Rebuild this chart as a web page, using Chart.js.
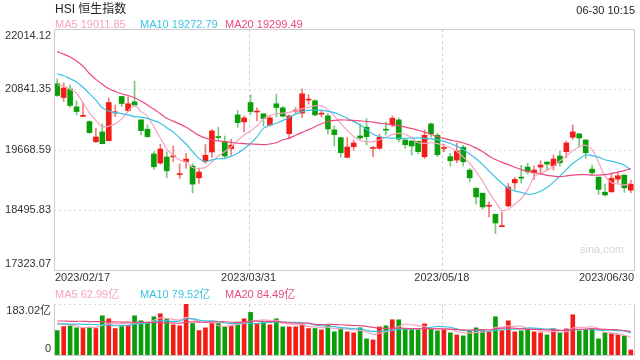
<!DOCTYPE html>
<html>
<head>
<meta charset="utf-8">
<script src="https://cdn.jsdelivr.net/npm/chart.js@4.4.0/dist/chart.umd.min.js"></script>
<style>
  html, body { margin: 0; padding: 0; background: #fff; }
  #wrap { position: relative; width: 640px; height: 360px; overflow: hidden;
          font-family: "Liberation Sans", Arial, "Noto Sans CJK SC", sans-serif; }
  canvas { position: absolute; left: 0; }
  .t { position: absolute; white-space: nowrap; font-size: 11px; line-height: 11px; }
</style>
</head>
<body>
<div id="wrap">
  <canvas id="kline" width="640" height="290" style="top:0"></canvas>
  <canvas id="vol" width="640" height="70" style="top:290px"></canvas>
  <div class="t" style="left:55px;top:3px;font-size:12px;line-height:12px;color:#222">HSI 恒生指数</div>
  <div class="t" style="right:5px;top:5px;color:#222">06-30 10:15</div>
  <div class="t" id="lg5" style="left:55px;top:19px"></div>
  <div class="t" id="lg10" style="left:140px;top:19px"></div>
  <div class="t" id="lg20" style="left:225px;top:19px"></div>
  <div class="t" id="vg5" style="left:55px;top:289px"></div>
  <div class="t" id="vg10" style="left:140px;top:289px"></div>
  <div class="t" id="vg20" style="left:225px;top:289px"></div>
</div>
<script>
(function () {
  'use strict';

  // ---- data ----
  const yTicks = [17323.07, 18495.83, 19668.59, 20841.35, 22014.12];
  const volTicks = [0, 183.02];
  const xTickIndex = [0, 30, 60, 89];
  const xTickLabels = ['2023/02/17', '2023/03/31', '2023/05/18', '2023/06/30'];
  const gridIndex = [30, 60];

  const open = [20949,20681,20845,20499,20314,20212,19821,20011,19841,20382,
    20701,20427,20597,20245,20063,19581,19405,19522,19526,19180,
    19430,19346,19117,19430,19620,19913,19821,19684,20343,20206,
    20583,20398,20363,20142,20558,20480,19977,20415,20376,20630,
    20617,20357,20323,20050,19899,19516,19723,19932,20103,19688,
    19692,20054,20147,20245,19854,19835,19829,19528,20167,19946,
    19688,19528,19463,19712,19268,18916,18818,18564,18408,18167,
    18570,19020,19121,19327,19215,19327,19424,19352,19542,19626,
    19907,19972,19854,19287,19131,18838,18844,19092,19170,18877];
  const high = [21041,20963,20929,20617,20583,20226,20083,20167,20669,20533,
    20706,20701,21002,20250,20147,19626,19770,19626,19737,19385,
    19594,19385,19287,19770,20063,20103,19932,19868,20427,20323,
    20734,20480,20368,20310,20748,20505,20343,20486,20851,20734,
    20636,20440,20363,20128,19905,19899,19854,20167,20271,19737,
    19966,20206,20323,20284,19860,19840,19834,20050,20181,19985,
    19776,19594,19790,19751,19301,18921,18823,18648,18413,18453,
    19008,19125,19360,19399,19346,19450,19430,19561,19633,19835,
    20147,19985,19860,19366,19136,18994,19215,19203,19175,19072];
  const low = [20701,20603,20493,20343,20310,19985,19802,19778,19836,20310,
    20505,20407,20505,19952,19907,19282,19379,19117,19430,19106,
    19301,18824,19008,19399,19516,19854,19516,19555,20103,20011,
    20357,20226,20128,20128,20298,20298,19874,20363,20290,20552,
    20323,20298,19972,19737,19516,19510,19659,19868,19757,19528,
    19672,19952,20114,19821,19692,19561,19581,19489,19907,19528,
    19626,19346,19411,19346,19039,18603,18506,18355,18031,18160,
    18551,18897,19020,19190,19086,19215,19268,19268,19346,19508,
    19868,19723,19497,19157,18793,18760,18838,19020,18832,18824];
  const close = [20720,20865,20525,20407,20323,19997,19913,19782,20583,20392,
    20564,20558,20533,20036,19919,19332,19678,19254,19536,19190,
    19483,18994,19229,19555,20030,19901,19542,19751,20192,20284,
    20407,20407,20271,20284,20486,20318,20323,20425,20753,20640,
    20343,20366,20069,19958,19606,19717,19796,19893,19919,19698,
    19907,20044,20278,19868,19762,19737,19626,19946,19972,19567,
    19698,19450,19639,19430,19117,18746,18551,18574,18238,18179,
    18936,19086,19111,19235,19268,19366,19385,19483,19411,19796,
    20011,19893,19606,19215,18891,18785,19106,19157,18922,18994];

  const ma5 = [20929,20904,20841,20763,20577,20382,20235,20108,20122,20167,
    20265,20411,20529,20411,20313,20108,19893,19678,19561,19463,
    19434,19317,19301,19317,19424,19542,19630,19717,19844,19952,
    20030,20128,20265,20333,20362,20376,20392,20421,20460,20495,
    20519,20519,20441,20323,20177,20040,19922,19844,19821,19821,
    19858,19903,19957,19981,19960,19899,19801,19786,19800,19782,
    19747,19708,19630,19526,19401,19235,19053,18838,18648,18486,
    18505,18603,18710,18887,19137,19200,19262,19342,19444,19542,
    19645,19717,19751,19668,19419,19145,19024,19000,18979,19011.85];
  const ma10 = [21144,21105,21046,20983,20880,20755,20630,20480,20413,20386,
    20368,20341,20308,20300,20274,20231,20180,20094,20010,19893,
    19776,19630,19493,19432,19467,19489,19497,19538,19596,19682,
    19786,19913,20079,20140,20180,20235,20296,20357,20405,20429,
    20439,20431,20411,20386,20335,20278,20216,20143,20063,19966,
    19922,19897,19889,19887,19887,19889,19893,19887,19877,19860,
    19828,19786,19735,19667,19583,19487,19377,19250,19125,19010,
    18916,18863,18834,18798,18808,18857,18930,19033,19151,19278,
    19395,19489,19561,19549,19520,19469,19442,19409,19362,19272.79];
  const ma20 = [21574,21525,21468,21392,21290,21148,21034,20937,20851,20798,
    20753,20720,20677,20614,20534,20450,20366,20278,20220,20165,
    20102,20022,19944,19889,19856,19835,19821,19807,19790,19784,
    19776,19770,19764,19776,19801,19858,19889,19946,20001,20055,
    20112,20171,20214,20237,20245,20241,20235,20225,20214,20200,
    20182,20167,20149,20132,20104,20075,20044,20006,19963,19922,
    19885,19852,19826,19795,19756,19696,19630,19540,19473,19417,
    19375,19323,19278,19243,19221,19194,19166,19151,19139,19155,
    19170,19180,19180,19170,19170,19178,19200,19229,19258,19299.49];

  // volume, 亿
  const vol = [87.7,102,104.7,97.5,98.6,98.6,95,140.8,130,95,
    102,105.8,140.8,122.7,116.7,137.2,148,130,108.3,104.7,
    183.02,113,87.7,97.5,113,113,101,104,118,130,
    152.8,113,116.7,108.3,130,101,101,101,110.7,95,
    95,90.3,108.3,83,97.5,83,79.4,97.5,57.8,54.2,
    101,104.7,126.4,126.4,93.9,90.3,90.3,112,93.9,86.6,
    90.3,79.4,72.2,68.6,86.6,97.5,90.3,83,137.2,87.7,
    122.7,83,86.6,93.9,83,79.4,72.2,93.9,79.4,93.9,
    144.4,86.6,90.3,93.9,57.8,79.4,75.8,72.2,68.6,18];
  const volMa5 = [112,110,108,104,98.1,100.3,98.9,106.1,112.6,111.9,
    112.6,114.7,114.7,113.3,117.6,124.6,133.1,130.9,128,125.6,
    134.8,127.8,119.3,117.2,118.8,104.8,102.4,105.7,109.8,113.2,
    121.2,123.6,126.1,124.2,124.2,113.8,111.4,108.3,108.7,101.7,
    100.5,98.4,99.9,94.3,94.8,92.4,90.2,88.1,83,74.4,
    78,83,88.8,102.5,110.5,108.3,105.5,102.6,96.1,94.6,
    94.6,92.4,84.5,79.4,79.4,80.9,83,85.2,98.9,99.1,
    104.2,102.7,103.4,94.8,93.8,85.2,83,84.5,81.6,83.8,
    96.8,99.6,98.9,101.8,94.6,81.6,79.4,75.8,70.8,62.99];
  const volMa10 = [112,112,111,111,110,110,109,108,107,105,
    106.4,106.8,110.4,112.9,114.7,118.6,123.9,122.8,120.7,121.6,
    129.8,130.5,125.2,122.7,122.2,119.6,114.9,112.3,113.2,115.8,
    113,113,115.9,117,118.7,117.5,117.5,117.2,116.5,113,
    107.2,104.9,104.1,101.5,98.3,96.5,94.3,94,88.7,84.6,
    85.2,86.6,88.5,92.8,92.4,93.2,94.3,95.7,99.3,102.6,
    101.5,99,93.5,87.8,87,87.7,87.7,84.8,89.2,89.3,
    92.5,92.9,94.3,96.9,96.5,94.7,92.9,94,88.2,88.8,
    91,91.3,91.7,91.7,89.2,89.2,89.5,87.4,86.3,79.52];
  const volMa20 = [122,122,121,121,121,120,120,120,119,119,
    118,118,117,117,117,116,116,115,115,114,
    118,118.6,117.7,117.7,118.5,119.1,119.4,117.5,116.9,118.7,
    121.2,121.6,120.4,119.7,120.3,118.5,116.2,114.7,114.8,114.4,
    110.1,109,110,109.3,108.5,107,105.9,105.6,102.6,98.8,
    96.2,95.8,96.3,97.2,95.4,94.8,94.3,94.8,94,93.6,
    93.3,92.8,91,90.3,89.7,90.5,91,90.3,94.2,95.9,
    97,95.9,93.9,92.3,91.8,91.2,90.3,89.4,88.7,89,
    91.7,92.1,93,94.3,92.8,91.9,91.2,90.7,87.2,84.49];

  // ---- styles ----
  const RED = '#f21d16', GREEN = '#0a9e0a';
  const RED_W = 'rgba(242,29,22,0.6)', GREEN_W = 'rgba(10,158,10,0.55)';
  const C5 = '#f7a3c0', C10 = '#3cc3e4', C20 = '#ea4b7d';
  const FONT = '"Liberation Sans", Arial, "Noto Sans CJK SC", sans-serif';

  const idx = close.map((_, i) => i);
  const up = idx.map(i => close[i] >= open[i]);
  const last = (a) => a[a.length - 1];

  // legends
  const setLg = (id, text, color) => {
    const el = document.getElementById(id);
    el.textContent = text;
    el.style.color = color;
  };
  setLg('lg5', 'MA5 ' + last(ma5).toFixed(2), C5);
  setLg('lg10', 'MA10 ' + last(ma10).toFixed(2), C10);
  setLg('lg20', 'MA20 ' + last(ma20).toFixed(2), C20);
  setLg('vg5', 'MA5 ' + last(volMa5).toFixed(2) + '亿', C5);
  setLg('vg10', 'MA10 ' + last(volMa10).toFixed(2) + '亿', C10);
  setLg('vg20', 'MA20 ' + last(volMa20).toFixed(2) + '亿', C20);

  // frame / labels plugin
  function makeFrame(cfg) {
    return {
      id: 'frame',
      beforeDatasetsDraw(chart) {
        const { ctx, chartArea: a, scales: { x, y } } = chart;
        ctx.save();
        ctx.lineWidth = 1;
        ctx.strokeStyle = '#d9d9d9';
        ctx.setLineDash([2, 3]);
        cfg.hLines.forEach(v => {
          const py = Math.round(y.getPixelForValue(v)) + 0.5;
          ctx.beginPath(); ctx.moveTo(a.left, py); ctx.lineTo(a.right, py); ctx.stroke();
        });
        ctx.strokeStyle = '#cfcfcf';
        ctx.setLineDash([3, 3]);
        gridIndex.forEach(i => {
          const px = Math.round(x.getPixelForValue(i) - 2) + 0.5;
          ctx.beginPath(); ctx.moveTo(px, a.top); ctx.lineTo(px, a.bottom); ctx.stroke();
        });
        ctx.restore();
      },
      afterDatasetsDraw(chart) {
        const { ctx, chartArea: a, scales: { x, y } } = chart;
        ctx.save();
        ctx.lineWidth = 1;
        ctx.strokeStyle = '#cccccc';
        ctx.setLineDash([]);
        const L = Math.round(a.left) + 0.5, R = Math.round(a.right) + 0.5;
        const T = Math.round(a.top) + 0.5, B = Math.round(a.bottom) + 0.5;
        ctx.beginPath();
        if (cfg.topBorder) { ctx.moveTo(L, T); ctx.lineTo(R, T); }
        ctx.moveTo(L, T); ctx.lineTo(L, B);
        ctx.moveTo(R, T); ctx.lineTo(R, B);
        ctx.moveTo(L, B); ctx.lineTo(R, B);
        ctx.stroke();

        ctx.font = '11px ' + FONT;
        ctx.fillStyle = '#333';
        ctx.textAlign = 'right';
        ctx.textBaseline = 'middle';
        const n = cfg.ticks.length;
        cfg.ticks.forEach((v, k) => {
          let py = y.getPixelForValue(v);
          if (k === 0) py -= 6.5;
          else if (k === n - 1) py += 6.5;
          ctx.fillText(cfg.fmt(v), a.left - 3, py);
        });

        if (cfg.xLabels) {
          xTickIndex.forEach((i, k) => {
            let px = x.getPixelForValue(i) - 2;
            if (k === 0) { ctx.textAlign = 'left'; px = a.left + 1; }
            else if (k === xTickIndex.length - 1) { ctx.textAlign = 'right'; px = a.right; }
            else ctx.textAlign = 'center';
            ctx.fillText(xTickLabels[k], px, a.bottom + 8);
          });
          ctx.font = '11px ' + FONT;
          ctx.fillStyle = '#d4d4d4';
          ctx.textAlign = 'center';
          ctx.fillText('sina.com', a.right - 32, a.bottom - 20);
        }
        ctx.restore();
      }
    };
  }

  const lineDs = (data, color) => ({
    type: 'line', data, borderColor: color, borderWidth: 1.2,
    pointRadius: 0, tension: 0.35, fill: false, order: 0
  });

  Chart.defaults.font.family = FONT;

  new Chart(document.getElementById('kline'), {
    type: 'bar',
    data: {
      labels: idx,
      datasets: [
        lineDs(ma20, C20),
        lineDs(ma10, C10),
        lineDs(ma5, C5),
        { data: idx.map(i => [open[i], close[i]]), backgroundColor: idx.map(i => up[i] ? RED : GREEN),
          barThickness: 5, minBarLength: 1, grouped: false, order: 1 },
        { data: idx.map(i => [low[i], high[i]]), backgroundColor: idx.map(i => up[i] ? RED_W : GREEN_W),
          barThickness: 1, minBarLength: 1, grouped: false, order: 2 }
      ]
    },
    options: {
      responsive: false,
      animation: false,
      events: [],
      layout: { padding: { left: 54, right: 6, top: 29, bottom: 20 } },
      plugins: { legend: { display: false }, tooltip: { enabled: false } },
      scales: {
        x: { display: false, offset: true },
        y: { display: false, min: yTicks[0], max: yTicks[yTicks.length - 1] }
      }
    },
    plugins: [makeFrame({
      hLines: yTicks.slice(1, -1),
      ticks: yTicks,
      fmt: v => v.toFixed(2),
      topBorder: true,
      xLabels: true
    })]
  });

  new Chart(document.getElementById('vol'), {
    type: 'bar',
    data: {
      labels: idx,
      datasets: [
        lineDs(volMa20, C20),
        lineDs(volMa10, C10),
        lineDs(volMa5, C5),
        { data: vol, backgroundColor: idx.map(i => up[i] ? RED : GREEN),
          barThickness: 4, grouped: false, order: 1 }
      ]
    },
    options: {
      responsive: false,
      animation: false,
      events: [],
      layout: { padding: { left: 54, right: 6, top: 14, bottom: 5 } },
      plugins: { legend: { display: false }, tooltip: { enabled: false } },
      scales: {
        x: { display: false, offset: true },
        y: { display: false, min: volTicks[0], max: volTicks[1] }
      }
    },
    plugins: [makeFrame({
      hLines: [volTicks[1]],
      ticks: volTicks,
      fmt: v => v === 0 ? '0' : v.toFixed(2) + '亿',
      topBorder: false,
      xLabels: false
    })]
  });
})();
</script>
</body>
</html>
